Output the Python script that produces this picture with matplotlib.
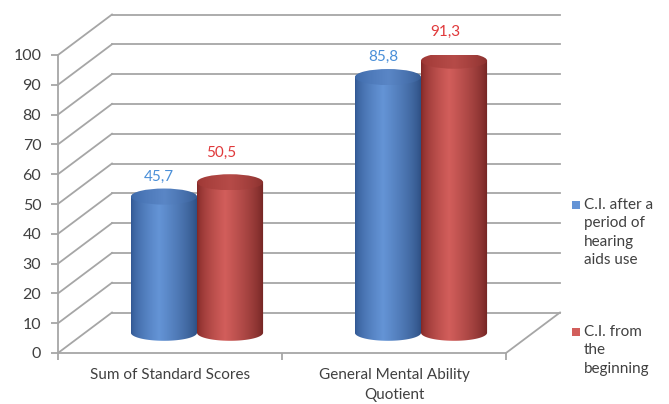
import numpy as np
import matplotlib
matplotlib.use("Agg")
import matplotlib.pyplot as plt
from matplotlib.path import Path
from matplotlib.patches import PathPatch, Ellipse, Rectangle

plt.rcParams['font.family'] = ['Lato', 'DejaVu Sans']

categories = ["Sum of Standard Scores", "General Mental Ability\nQuotient"]
series_names = ["C.I. after a\nperiod of\nhearing\naids use", "C.I. from\nthe\nbeginning"]
after_period = [45.7, 85.8]
from_beginning = [50.5, 91.3]
value_labels = [["45,7", "85,8"], ["50,5", "91,3"]]
yticks = list(range(0, 101, 10))

# colours: (dark edge, light middle, top cap dark, top cap light, label)
styles = [
    dict(edge="#2f5590", mid="#6494d6", cap0="#3a66a6", cap1="#5a86c6", label="#4a8fd8"),
    dict(edge="#7e2624", mid="#d25e5b", cap0="#9a3532", cap1="#b64b48", label="#e0393b"),
]
grid_col = "#a6a6a6"
text_col = "#404040"

W = 669 / 100
H = 404 / 100
fig = plt.figure(figsize=(W, H), dpi=100)
ax = fig.add_axes([58 / 669, 51 / 404, 448 / 669, 298 / 404])
ax.set_xlim(-0.5, 1.5)
ax.set_ylim(0, 100)

# oblique depth offset of the back wall, in data units
DX = 54 / 224
DY = 40.5 / 2.98
bw = 0.295          # cylinder width
eh = 2.7            # half height of the end ellipses


def proj(x, v, d):
    return x + d * DX, v + d * DY


# back wall gridlines and the side-wall diagonals
for v in yticks:
    x0, y0 = proj(-0.5, v, 1)
    x1, y1 = proj(1.5, v, 1)
    ax.plot([x0, x1], [y0, y1], color=grid_col, lw=1.3, clip_on=False, zorder=1)
    ax.plot([-0.5, x0], [v, y0], color=grid_col, lw=1.3, clip_on=False, zorder=1)
# right edge of the floor
xr, yr = proj(1.5, 0, 1)
ax.plot([1.5, xr], [0, yr], color=grid_col, lw=1.3, clip_on=False, zorder=1)


def gradient(c_edge, c_mid, n=200, peak=0.42):
    ce = np.array(matplotlib.colors.to_rgb(c_edge))
    cm = np.array(matplotlib.colors.to_rgb(c_mid))
    t = np.linspace(0, 1, n)
    w = np.where(t < peak, t / peak, (1 - t) / (1 - peak))
    w = np.clip(w, 0, 1) ** 0.6
    # right side a little darker than the left
    shade = np.where(t < peak, 1.0, 0.85 + 0.15 * w)
    rgb = (ce[None, :] * (1 - w[:, None]) + cm[None, :] * w[:, None]) * shade[:, None]
    return np.clip(rgb[None, :, :], 0, 1)


def cylinder(xc, value, st, z):
    cx, base = proj(xc, 0, 0.5)
    top = base + value
    l, r = cx - bw / 2, cx + bw / 2
    t = np.linspace(np.pi, 2 * np.pi, 60)
    verts = [(l, top), (l, base)]
    verts += list(zip(cx + bw / 2 * np.cos(t), base + eh * np.sin(t)))
    verts += [(r, top), (l, top)]
    body = PathPatch(Path(verts), facecolor="none", edgecolor="none", transform=ax.transData)
    ax.add_patch(body)
    img = ax.imshow(gradient(st["edge"], st["mid"]), extent=[l, r, base - eh, top],
                    aspect="auto", origin="lower", zorder=z, clip_on=True)
    img.set_clip_path(body)
    cap = Ellipse((cx, top), bw, 2 * eh, facecolor="none", edgecolor="none")
    ax.add_patch(cap)
    img2 = ax.imshow(gradient(st["cap0"], st["cap1"], peak=0.5), extent=[l, r, top - eh, top + eh],
                     aspect="auto", origin="lower", zorder=z + 0.1)
    img2.set_clip_path(cap)
    return cx, top


label_offsets = [(-5, 20), (-9, 29)]
for j, vals in enumerate([after_period, from_beginning]):
    for i, v in enumerate(vals):
        xc = i + (j - 0.5) * bw
        cx, top = cylinder(xc, v, styles[j], 3 + j + 2 * i)
        dx, dy = label_offsets[j]
        ax.annotate(value_labels[j][i], (cx, top), xytext=(dx * 0.72, dy * 0.72),
                    textcoords="offset points", ha="center", va="center",
                    color=styles[j]["label"], fontsize=11, zorder=20)

ax.set_xlim(-0.5, 1.5)
ax.set_ylim(0, 100)
ax.set_facecolor("none")
for s in ["top", "right"]:
    ax.spines[s].set_visible(False)
for s in ["left", "bottom"]:
    ax.spines[s].set_color(grid_col)
    ax.spines[s].set_linewidth(1.3)
    ax.spines[s].set_zorder(2)
ax.set_yticks(yticks)
ax.set_xticks([0, 1])
ax.set_xticklabels(categories, linespacing=1.55)
ax.set_xticks([-0.5, 0.5, 1.5], minor=True)
ax.tick_params(axis="y", colors=grid_col, labelcolor=text_col, labelsize=11.5,
               length=5, width=1.3, pad=7)
ax.tick_params(axis="x", which="major", length=0, labelcolor=text_col, labelsize=11, pad=11)
ax.tick_params(axis="x", which="minor", colors=grid_col, length=5, width=1.3)

# legend
for j, (name, yp) in enumerate(zip(series_names, [205, 332])):
    fig.patches.append(Rectangle(((572) / 669, (404 - yp - 4) / 404), 8 / 669, 8 / 404,
                                 transform=fig.transFigure, facecolor=styles[j]["mid"],
                                 edgecolor="none"))
    fig.text(584 / 669, (404 - yp + 7) / 404, name, ha="left", va="top",
             color=text_col, fontsize=11, linespacing=1.4)

fig.savefig("out.png", dpi=100)
